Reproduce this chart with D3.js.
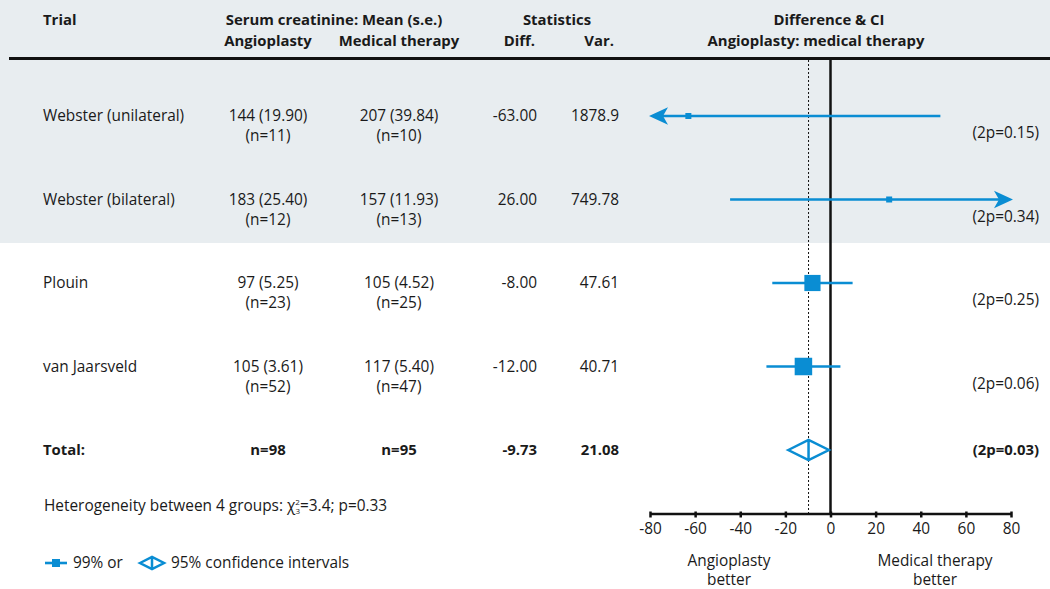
<!DOCTYPE html>
<html>
<head>
<meta charset="utf-8">
<script src="https://cdn.jsdelivr.net/npm/d3@7"></script>
<style>
  body { margin: 0; background: #fff; }
  text { font-family: "Open Sans", "Noto Sans", sans-serif; font-size: 15.4px; fill: #1a1a1a; }
  text.b { font-weight: bold; font-size: 14.9px; }
</style>
</head>
<body>
<svg id="chart" width="1050" height="589"></svg>
<script>
// data
var trials   = ["Webster (unilateral)", "Webster (bilateral)", "Plouin", "van Jaarsveld"];
var angioTxt = ["144 (19.90)", "183 (25.40)", "97 (5.25)", "105 (3.61)"];
var angioN   = [11, 12, 23, 52];
var medTxt   = ["207 (39.84)", "157 (11.93)", "105 (4.52)", "117 (5.40)"];
var medN     = [10, 13, 25, 47];
var diffs    = [-63.00, 26.00, -8.00, -12.00];
var vars     = [1878.9, 749.78, 47.61, 40.71];
var ciLow    = [-174.7, -44.5, -25.8, -28.4];   // 99% CI
var ciHigh   = [48.7, 96.5, 9.8, 4.4];
var pvals    = ["0.15", "0.34", "0.25", "0.06"];

var totalN    = [98, 95];
var totalDiff = -9.73;
var totalVar  = 21.08;
var totalCI   = [-18.7, -0.73];                  // 95% CI
var totalP    = "0.03";

var axisTicks = [-80, -60, -40, -20, 0, 20, 40, 60, 80];

var blue = "#0a8dd3";
var svg = d3.select("#chart");

var x = d3.scaleLinear().domain([-80, 80]).range([650, 1011]);
var y = d3.scalePoint().domain(trials.concat(["Total"])).range([116, 450]);
var box = d3.scaleSqrt().domain([0, d3.max(vars, function (v) { return 1 / v; })]).range([0, 17.5]);

var rows = trials.map(function (t, i) {
  return { name: t, a: angioTxt[i], an: angioN[i], m: medTxt[i], mn: medN[i],
           d: diffs[i], v: vars[i], lo: ciLow[i], hi: ciHigh[i], p: pvals[i] };
});

// shaded background (header + first two rows)
svg.append("rect").attr("x", 0).attr("y", 0).attr("width", 1050).attr("height", 243).attr("fill", "#e8edf0");

// header
var hdr = svg.append("g").attr("class", "hdr");
function htext(tx, ty, s, anchor) {
  hdr.append("text").attr("class", "b").attr("x", tx).attr("y", ty)
     .attr("text-anchor", anchor || "middle").text(s);
}
htext(43, 25, "Trial", "start");
htext(334, 25, "Serum creatinine: Mean (s.e.)");
htext(268, 46, "Angioplasty");
htext(399, 46, "Medical therapy");
htext(557, 25, "Statistics");
htext(535, 46, "Diff.", "end");
htext(614, 46, "Var.", "end");
htext(829, 25, "Difference & CI");
htext(816, 46, "Angioplasty: medical therapy");

svg.append("line").attr("x1", 9).attr("x2", 1050).attr("y1", 58.5).attr("y2", 58.5)
   .attr("stroke", "#111").attr("stroke-width", 3);

// table rows
var rg = svg.selectAll("g.row").data(rows).enter().append("g").attr("class", "row")
  .attr("transform", function (d) { return "translate(0," + y(d.name) + ")"; });
rg.append("text").attr("x", 43).attr("y", 5).text(function (d) { return d.name; });
rg.append("text").attr("x", 268).attr("y", 5).attr("text-anchor", "middle").text(function (d) { return d.a; });
rg.append("text").attr("x", 268).attr("y", 25).attr("text-anchor", "middle").text(function (d) { return "(n=" + d.an + ")"; });
rg.append("text").attr("x", 399).attr("y", 5).attr("text-anchor", "middle").text(function (d) { return d.m; });
rg.append("text").attr("x", 399).attr("y", 25).attr("text-anchor", "middle").text(function (d) { return "(n=" + d.mn + ")"; });
rg.append("text").attr("x", 537).attr("y", 5).attr("text-anchor", "end").text(function (d) { return d.d.toFixed(2); });
rg.append("text").attr("x", 619).attr("y", 5).attr("text-anchor", "end").text(function (d) { return String(d.v); });
rg.append("text").attr("x", 1039).attr("y", 22).attr("text-anchor", "end").text(function (d) { return "(2p=" + d.p + ")"; });

// total row
var ty = y("Total");
var tg = svg.append("g").attr("transform", "translate(0," + ty + ")");
tg.append("text").attr("class", "b").attr("x", 43).attr("y", 5).text("Total:");
tg.append("text").attr("class", "b").attr("x", 268).attr("y", 5).attr("text-anchor", "middle").text("n=" + totalN[0]);
tg.append("text").attr("class", "b").attr("x", 399).attr("y", 5).attr("text-anchor", "middle").text("n=" + totalN[1]);
tg.append("text").attr("class", "b").attr("x", 537).attr("y", 5).attr("text-anchor", "end").text(totalDiff.toFixed(2));
tg.append("text").attr("class", "b").attr("x", 619).attr("y", 5).attr("text-anchor", "end").text(totalVar.toFixed(2));
tg.append("text").attr("class", "b").attr("x", 1039).attr("y", 5).attr("text-anchor", "end").text("(2p=" + totalP + ")");

// reference lines
var axisY = 513.5;
svg.append("line").attr("x1", x(totalDiff)).attr("x2", x(totalDiff)).attr("y1", 60).attr("y2", axisY)
   .attr("stroke", "#111").attr("stroke-width", 1).attr("stroke-dasharray", "2,2");
svg.append("line").attr("x1", x(0)).attr("x2", x(0)).attr("y1", 60).attr("y2", axisY)
   .attr("stroke", "#111").attr("stroke-width", 2.5);

// axis
var ax = svg.append("g").attr("transform", "translate(0," + axisY + ")")
  .call(d3.axisBottom(x).tickValues(axisTicks).tickSizeInner(4).tickSizeOuter(0).tickPadding(6)
        .tickFormat(function (d) { return String(d); }));
ax.attr("font-family", null).attr("font-size", null);
ax.select(".domain").attr("stroke", "#111").attr("stroke-width", 2.5);
ax.selectAll(".tick line").attr("y1", -2).attr("stroke", "#111").attr("stroke-width", 2.5);
ax.selectAll(".tick text").attr("fill", "#1a1a1a");

// CI lines, arrows and boxes
function arrow(tipX, cy, dir) {
  // dir = -1 points left, +1 points right
  var L = 19, H = 8.8, N = 5;
  return "M" + tipX + "," + cy +
         "L" + (tipX - dir * L) + "," + (cy - H) +
         "L" + (tipX - dir * (L - N)) + "," + cy +
         "L" + (tipX - dir * L) + "," + (cy + H) + "Z";
}
var dom = x.domain();
rows.forEach(function (d) {
  var cy = y(d.name);
  var lo = Math.max(d.lo, dom[0]), hi = Math.min(d.hi, dom[1]);
  var x1 = d.lo < dom[0] ? x(dom[0]) + 8 : x(lo);
  var x2 = d.hi > dom[1] ? x(dom[1]) - 8 : x(hi);
  svg.append("line").attr("x1", x1).attr("x2", x2).attr("y1", cy).attr("y2", cy)
     .attr("stroke", blue).attr("stroke-width", 2.6);
  if (d.lo < dom[0]) svg.append("path").attr("d", arrow(x(dom[0]) - 1, cy, -1)).attr("fill", blue);
  if (d.hi > dom[1]) svg.append("path").attr("d", arrow(x(dom[1]) + 2, cy, 1)).attr("fill", blue);
  var s = Math.max(6, box(1 / d.v));
  svg.append("rect").attr("x", x(d.d) - s / 2).attr("y", cy - s / 2).attr("width", s).attr("height", s)
     .attr("fill", blue);
});

// total diamond
function diamond(cx, l, r, cy, h) {
  return "M" + l + "," + cy + "L" + cx + "," + (cy - h) + "L" + r + "," + cy + "L" + cx + "," + (cy + h) + "Z" +
         "M" + cx + "," + (cy - h) + "L" + cx + "," + (cy + h);
}
svg.append("path").attr("d", diamond(x(totalDiff), x(totalCI[0]), x(totalCI[1]), ty, 10))
   .attr("fill", "#fff").attr("stroke", blue).attr("stroke-width", 2.5).attr("stroke-linejoin", "miter");

// heterogeneity note
var het = svg.append("text").attr("x", 44).attr("y", 511);
het.append("tspan").text("Heterogeneity between 4 groups: \u03C7");
het.append("tspan").attr("font-size", "8px").attr("dy", -6).text("2");
het.append("tspan").attr("font-size", "8px").attr("dx", -4.5).attr("dy", 9).text("3");
het.append("tspan").attr("dy", -3).text("=3.4; p=0.33");

// legend
var ly = 563;
svg.append("line").attr("x1", 45).attr("x2", 67).attr("y1", ly).attr("y2", ly).attr("stroke", blue).attr("stroke-width", 2.6);
svg.append("rect").attr("x", 52).attr("y", ly - 4).attr("width", 8).attr("height", 8).attr("fill", blue);
svg.append("text").attr("x", 73).attr("y", ly + 5).text("99% or");
svg.append("path").attr("d", diamond(152, 140, 164, ly, 6))
   .attr("fill", "#fff").attr("stroke", blue).attr("stroke-width", 2.5);
svg.append("text").attr("x", 171).attr("y", ly + 5).text("95% confidence intervals");

// direction labels
function label2(cx, a, b) {
  svg.append("text").attr("x", cx).attr("y", 566).attr("text-anchor", "middle").text(a);
  svg.append("text").attr("x", cx).attr("y", 585).attr("text-anchor", "middle").text(b);
}
label2(729, "Angioplasty", "better");
label2(935, "Medical therapy", "better");
</script>
</body>
</html>
